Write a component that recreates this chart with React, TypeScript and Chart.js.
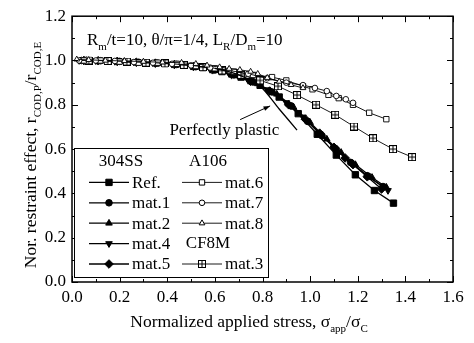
import React, { useEffect, useRef } from 'react';
import { Chart, registerables } from 'chart.js';
import { drawPoint } from 'chart.js/helpers';

Chart.register(...registerables);

const FONT = '"Liberation Serif", "Times New Roman", serif';

// ---- axis ticks ----
const xTickValues = [0, 0.2, 0.4, 0.6, 0.8, 1.0, 1.2, 1.4, 1.6];
const yTickValues = [0, 0.2, 0.4, 0.6, 0.8, 1.0, 1.2];

// ---- 304SS ----
const refX = [0.07, 0.15, 0.23, 0.31, 0.39, 0.47, 0.55, 0.63, 0.71, 0.79, 0.87, 0.95, 1.03, 1.11, 1.19, 1.27, 1.35];
const refY = [1.0, 0.998, 0.994, 0.99, 0.986, 0.979, 0.968, 0.95, 0.925, 0.888, 0.835, 0.76, 0.667, 0.573, 0.484, 0.413, 0.356];

const mat1X = [0.04, 0.12, 0.2, 0.28, 0.36, 0.44, 0.52, 0.6, 0.68, 0.76, 0.84, 0.92, 0.99, 1.05, 1.11, 1.17, 1.24, 1.306];
const mat1Y = [1.0, 0.999, 0.996, 0.992, 0.988, 0.982, 0.972, 0.957, 0.935, 0.903, 0.858, 0.795, 0.725, 0.66, 0.598, 0.54, 0.48, 0.431];

const mat2X = [0.06, 0.14, 0.22, 0.3, 0.38, 0.46, 0.54, 0.62, 0.7, 0.78, 0.86, 0.93, 1.0, 1.07, 1.13, 1.19, 1.26, 1.32];
const mat2Y = [1.0, 0.998, 0.995, 0.991, 0.987, 0.98, 0.97, 0.954, 0.93, 0.895, 0.848, 0.79, 0.72, 0.645, 0.585, 0.53, 0.472, 0.428];

const mat4X = [0.03, 0.1, 0.18, 0.26, 0.34, 0.42, 0.5, 0.58, 0.66, 0.74, 0.82, 0.9, 0.97, 1.04, 1.1, 1.17, 1.24, 1.327];
const mat4Y = [1.0, 0.999, 0.996, 0.993, 0.989, 0.983, 0.974, 0.96, 0.94, 0.91, 0.868, 0.81, 0.745, 0.67, 0.608, 0.54, 0.48, 0.413];

const mat5X = [0.05, 0.11, 0.19, 0.27, 0.35, 0.43, 0.51, 0.59, 0.67, 0.75, 0.83, 0.91, 0.98, 1.04, 1.1, 1.147, 1.18, 1.24, 1.3];
const mat5Y = [1.0, 0.999, 0.996, 0.992, 0.988, 0.982, 0.973, 0.958, 0.937, 0.906, 0.862, 0.8, 0.735, 0.672, 0.608, 0.56, 0.53, 0.475, 0.42];

// ---- A106 ----
const mat6X = [0.05, 0.12, 0.2, 0.28, 0.36, 0.44, 0.52, 0.6, 0.68, 0.76, 0.84, 0.9, 0.97, 1.01, 1.077, 1.12, 1.18, 1.248, 1.32];
const mat6Y = [1.0, 1.0, 0.995, 0.99, 0.99, 0.985, 0.975, 0.965, 0.95, 0.935, 0.925, 0.91, 0.884, 0.87, 0.845, 0.83, 0.8, 0.764, 0.735];

const mat7X = [0.03, 0.1, 0.18, 0.26, 0.34, 0.42, 0.5, 0.58, 0.66, 0.74, 0.82, 0.9, 0.97, 1.02, 1.07, 1.11, 1.15, 1.18];
const mat7Y = [1.0, 1.0, 0.998, 0.993, 0.99, 0.985, 0.978, 0.968, 0.955, 0.94, 0.92, 0.9, 0.889, 0.876, 0.862, 0.84, 0.825, 0.809];

const mat8X = [0.02, 0.07, 0.14, 0.22, 0.3, 0.38, 0.46, 0.52, 0.567, 0.62, 0.66, 0.705, 0.75, 0.78, 0.82, 0.87, 0.92, 0.97];
const mat8Y = [1.005, 1.003, 1.0, 0.998, 0.995, 0.992, 0.99, 0.985, 0.978, 0.97, 0.963, 0.958, 0.95, 0.94, 0.922, 0.905, 0.89, 0.876];

// ---- CF8M ----
const mat3X = [0.07, 0.15, 0.23, 0.31, 0.39, 0.47, 0.55, 0.63, 0.71, 0.79, 0.865, 0.945, 1.025, 1.105, 1.184, 1.264, 1.348, 1.428];
const mat3Y = [1.0, 0.998, 0.995, 0.99, 0.987, 0.98, 0.97, 0.955, 0.935, 0.91, 0.884, 0.844, 0.8, 0.755, 0.702, 0.649, 0.6, 0.564];

// ---- perfectly plastic ----
const ppX = [0.6, 0.7, 0.79, 0.87, 0.945];
const ppY = [0.965, 0.935, 0.884, 0.781, 0.686];

const zip = (xs: number[], ys: number[]) => xs.map((x, i) => ({ x, y: ys[i] }));

function makeCrossSquare(): HTMLCanvasElement {
  const c = document.createElement('canvas');
  c.width = 8;
  c.height = 8;
  const g = c.getContext('2d')!;
  g.fillStyle = '#fff';
  g.fillRect(0, 0, 8, 8);
  g.strokeStyle = '#000';
  g.lineWidth = 1;
  g.strokeRect(0.5, 0.5, 7, 7);
  g.beginPath();
  g.moveTo(4, 0.5);
  g.lineTo(4, 7.5);
  g.moveTo(0.5, 4);
  g.lineTo(7.5, 4);
  g.stroke();
  return c;
}

type Seg = { t: string; sub?: boolean };

function richWidth(ctx: CanvasRenderingContext2D, segs: Seg[], main: string, sub: string) {
  let w = 0;
  for (const s of segs) {
    ctx.font = s.sub ? sub : main;
    w += ctx.measureText(s.t).width;
  }
  return w;
}

function drawRich(ctx: CanvasRenderingContext2D, segs: Seg[], x: number, y: number, main: string, sub: string, subDrop: number) {
  let cx = x;
  ctx.textBaseline = 'alphabetic';
  ctx.textAlign = 'left';
  for (const s of segs) {
    ctx.font = s.sub ? sub : main;
    ctx.fillText(s.t, cx, s.sub ? y + subDrop : y);
    cx += ctx.measureText(s.t).width;
  }
}

const MAIN_FONT = `17px ${FONT}`;
const SUB_FONT = `11px ${FONT}`;
const AXIS_FONT = `17.5px ${FONT}`;

const titleSegs: Seg[] = [
  { t: 'R' }, { t: 'm', sub: true }, { t: '/t=10, \u03B8/\u03C0=1/4, L' }, { t: 'R', sub: true },
  { t: '/D' }, { t: 'm', sub: true }, { t: '=10' },
];
const yTitleSegs: Seg[] = [
  { t: 'Nor. restraint effect, r' }, { t: 'COD,P', sub: true }, { t: '/r' }, { t: 'COD,E', sub: true },
];
const xTitleSegs: Seg[] = [
  { t: 'Normalized applied stress, \u03C3' }, { t: 'app', sub: true }, { t: '/\u03C3' }, { t: 'C', sub: true },
];

const legendLeft = ['304SS', 'Ref.', 'mat.1', 'mat.2', 'mat.4', 'mat.5'];
const legendRight = ['A106', 'mat.6', 'mat.7', 'mat.8', 'CF8M', 'mat.3'];

const decorPlugin = {
  id: 'decor',
  afterDatasetsDraw(chart: any) {
    const { ctx, chartArea: a, scales } = chart;
    const xs = scales.x;
    const ys = scales.y;
    ctx.save();
    ctx.strokeStyle = '#000';
    ctx.fillStyle = '#000';

    // frame
    ctx.lineWidth = 1.5;
    ctx.strokeRect(a.left, a.top, a.right - a.left, a.bottom - a.top);

    // inward ticks on all four sides
    ctx.lineWidth = 1;
    ctx.beginPath();
    for (let i = 0; i <= 16; i++) {
      const px = Math.round(xs.getPixelForValue(i / 10)) + 0.5;
      const len = i % 2 === 0 ? 6 : 3;
      ctx.moveTo(px, a.bottom);
      ctx.lineTo(px, a.bottom - len);
      ctx.moveTo(px, a.top);
      ctx.lineTo(px, a.top + len);
    }
    for (let i = 0; i <= 12; i++) {
      const py = Math.round(ys.getPixelForValue(i / 10)) + 0.5;
      const len = i % 2 === 0 ? 6 : 3;
      ctx.moveTo(a.left, py);
      ctx.lineTo(a.left + len, py);
      ctx.moveTo(a.right, py);
      ctx.lineTo(a.right - len, py);
    }
    ctx.stroke();

    // title annotation
    drawRich(ctx, titleSegs, a.left + 15, a.top + 29, MAIN_FONT, SUB_FONT, 5);

    // perfectly plastic annotation
    const tx = xs.getPixelForValue(0.64);
    const ty = ys.getPixelForValue(0.684);
    ctx.font = MAIN_FONT;
    ctx.textAlign = 'center';
    ctx.textBaseline = 'middle';
    ctx.fillText('Perfectly plastic', tx, ty);
    const ax0 = xs.getPixelForValue(0.706), ay0 = ys.getPixelForValue(0.733);
    const ax1 = xs.getPixelForValue(0.832), ay1 = ys.getPixelForValue(0.795);
    ctx.lineWidth = 1;
    ctx.beginPath();
    ctx.moveTo(ax0, ay0);
    ctx.lineTo(ax1, ay1);
    ctx.stroke();
    const ang = Math.atan2(ay1 - ay0, ax1 - ax0);
    ctx.beginPath();
    ctx.moveTo(ax1, ay1);
    ctx.lineTo(ax1 - 7 * Math.cos(ang - 0.35), ay1 - 7 * Math.sin(ang - 0.35));
    ctx.lineTo(ax1 - 7 * Math.cos(ang + 0.35), ay1 - 7 * Math.sin(ang + 0.35));
    ctx.closePath();
    ctx.fill();

    // legend
    const bx = a.left + 2.5, by = 148.5, bw = 194, bh = 129;
    ctx.fillStyle = '#fff';
    ctx.fillRect(bx, by, bw, bh);
    ctx.strokeStyle = '#000';
    ctx.lineWidth = 1;
    ctx.strokeRect(bx, by, bw, bh);
    const datasets = chart.data.datasets;
    const drawCol = (items: string[], lineX0: number, headerCx: number) => {
      items.forEach((label, i) => {
        const ry = 162 + i * 20.4;
        const ds = datasets.find((d: any) => d.label === label);
        ctx.fillStyle = '#000';
        ctx.font = MAIN_FONT;
        ctx.textBaseline = 'middle';
        if (!ds) {
          ctx.textAlign = 'center';
          ctx.fillText(label, headerCx, ry);
          return;
        }
        ctx.strokeStyle = '#000';
        ctx.lineWidth = ds.borderWidth;
        ctx.beginPath();
        ctx.moveTo(lineX0, ry);
        ctx.lineTo(lineX0 + 40, ry);
        ctx.stroke();
        ctx.fillStyle = ds.pointBackgroundColor;
        ctx.strokeStyle = '#000';
        ctx.lineWidth = 1;
        drawPoint(ctx, {
          pointStyle: ds.pointStyle,
          rotation: ds.pointRotation || 0,
          radius: ds.pointRadius,
          borderWidth: 1,
        }, lineX0 + 20, ry);
        ctx.fillStyle = '#000';
        ctx.textAlign = 'left';
        ctx.font = MAIN_FONT;
        ctx.fillText(label, lineX0 + 43, ry + 1);
      });
    };
    drawCol(legendLeft, 89, 121);
    drawCol(legendRight, 182, 208);

    // axis titles
    ctx.fillStyle = '#000';
    const xw = richWidth(ctx, xTitleSegs, AXIS_FONT, SUB_FONT);
    drawRich(ctx, xTitleSegs, 249 - xw / 2, 327, AXIS_FONT, SUB_FONT, 5);

    const yw = richWidth(ctx, yTitleSegs, AXIS_FONT, SUB_FONT);
    ctx.save();
    ctx.translate(36, 155);
    ctx.rotate(-Math.PI / 2);
    drawRich(ctx, yTitleSegs, -yw / 2, 0, AXIS_FONT, SUB_FONT, 5);
    ctx.restore();

    ctx.restore();
  },
};

export default function App() {
  const ref = useRef<HTMLCanvasElement | null>(null);
  useEffect(() => {
    const cross = makeCrossSquare();
    const solid = (label: string, xs: number[], ys: number[], style: any, radius: number, rotation = 0) => ({
      label,
      data: zip(xs, ys),
      borderColor: '#000',
      borderWidth: 1.3,
      pointStyle: style,
      pointRotation: rotation,
      pointRadius: radius,
      pointBackgroundColor: '#000',
      pointBorderColor: '#000',
      pointBorderWidth: 1,
    });
    const open = (label: string, xs: number[], ys: number[], style: any, radius: number) => ({
      label,
      data: zip(xs, ys),
      borderColor: '#000',
      borderWidth: 0.9,
      pointStyle: style,
      pointRotation: 0,
      pointRadius: radius,
      pointBackgroundColor: '#fff',
      pointBorderColor: '#000',
      pointBorderWidth: 0.9,
    });
    const chart = new Chart(ref.current!, {
      type: 'line',
      data: {
        datasets: [
          {
            label: 'Perfectly plastic',
            data: zip(ppX, ppY),
            borderColor: '#000',
            borderWidth: 1.3,
            pointRadius: 0,
            tension: 0.3,
          } as any,
          open('mat.8', mat8X, mat8Y, 'triangle', 3.3),
          open('mat.7', mat7X, mat7Y, 'circle', 2.8),
          open('mat.6', mat6X, mat6Y, 'rect', 3.8),
          open('mat.3', mat3X, mat3Y, cross, 4),
          solid('mat.5', mat5X, mat5Y, 'rectRot', 4.3),
          solid('mat.4', mat4X, mat4Y, 'triangle', 3.8, 180),
          solid('mat.2', mat2X, mat2Y, 'triangle', 3.8),
          solid('mat.1', mat1X, mat1Y, 'circle', 3.3),
          solid('Ref.', refX, refY, 'rect', 4.5),
        ],
      },
      options: {
        animation: false,
        responsive: true,
        maintainAspectRatio: false,
        layout: { padding: { top: 12, right: 21, left: 0, bottom: 0 } },
        plugins: { legend: { display: false }, tooltip: { enabled: false } },
        scales: {
          x: {
            type: 'linear',
            min: 0,
            max: 1.6,
            grid: { display: false, drawTicks: false },
            border: { display: false },
            afterBuildTicks: (s: any) => { s.ticks = xTickValues.map((v) => ({ value: v })); },
            afterFit: (s: any) => { s.height = 61; },
            ticks: {
              color: '#000',
              padding: 5,
              maxRotation: 0,
              font: { family: FONT, size: 17 },
              callback: (v: any) => Number(v).toFixed(1),
            },
          },
          y: {
            type: 'linear',
            min: 0,
            max: 1.2,
            grid: { display: false, drawTicks: false },
            border: { display: false },
            afterBuildTicks: (s: any) => { s.ticks = yTickValues.map((v) => ({ value: v })); },
            afterFit: (s: any) => { s.width = 72; },
            ticks: {
              color: '#000',
              padding: 6,
              font: { family: FONT, size: 17 },
              callback: (v: any) => Number(v).toFixed(1),
            },
          },
        },
      },
      plugins: [decorPlugin],
    });
    return () => chart.destroy();
  }, []);
  return (
    <div style={{ position: 'absolute', left: 0, top: 0, width: 474, height: 343, background: '#fff' }}>
      <canvas ref={ref} />
    </div>
  );
}
